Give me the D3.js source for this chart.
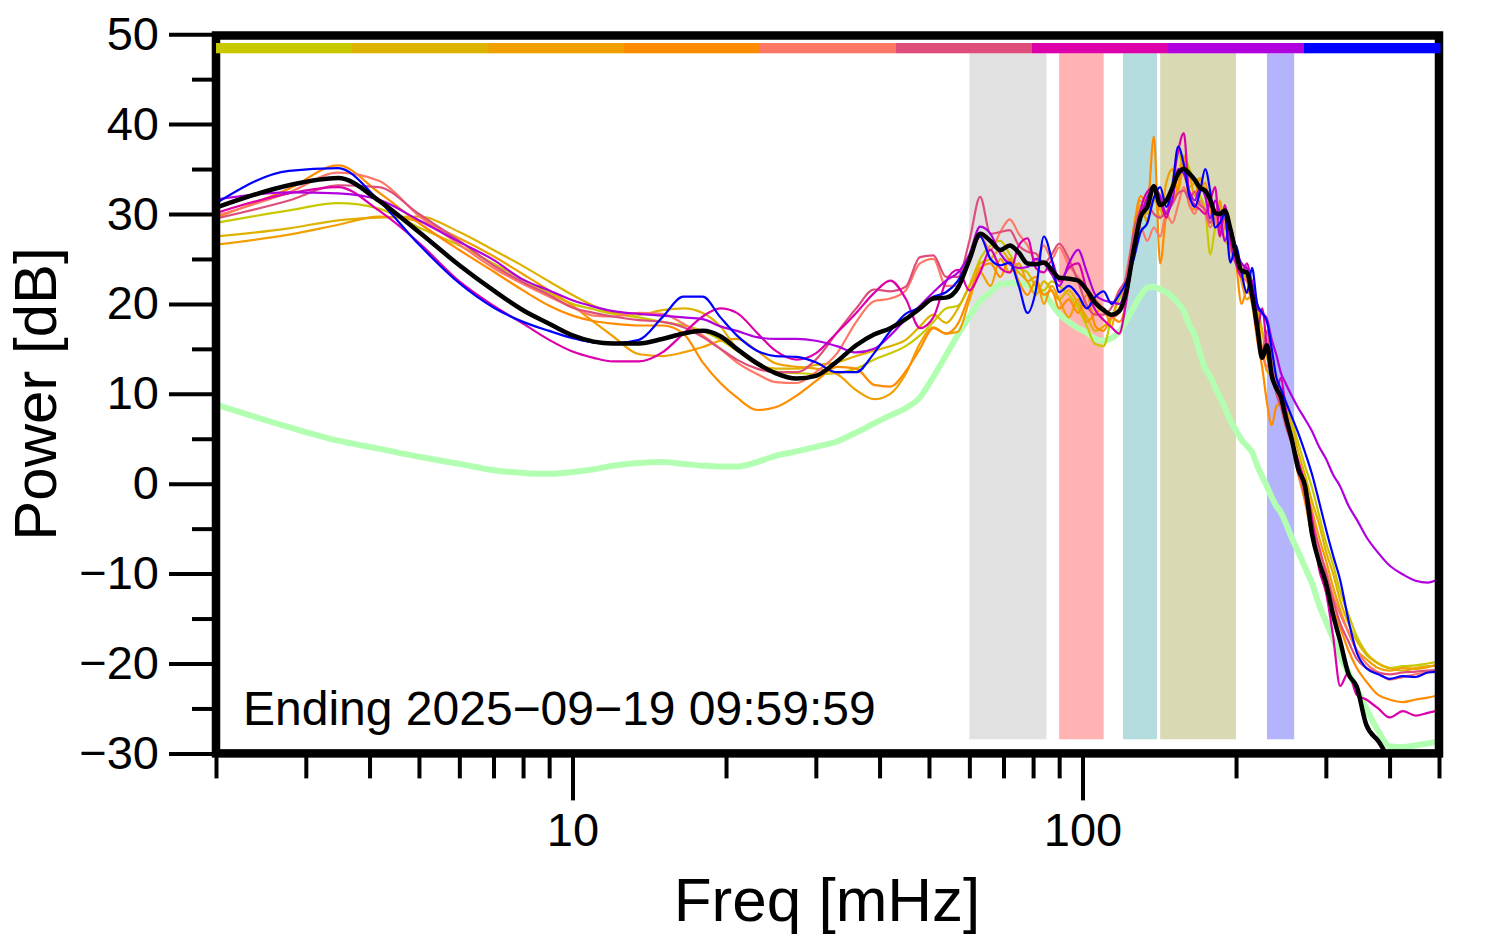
<!DOCTYPE html>
<html><head><meta charset="utf-8">
<script src="https://cdn.jsdelivr.net/npm/d3@7"></script>
<style>
html,body{margin:0;padding:0;background:#fff;}
svg{display:block;font-family:"Liberation Sans",Arial,Helvetica,sans-serif;}
</style></head><body>
<svg id="chart" width="1494" height="952"></svg>
<script>
// ---------------- data ----------------
const freqs = [2, 2.78, 3.47, 4.17, 5, 6, 7, 8, 9, 10,
  11, 12, 13.5, 15, 16.5, 18, 19.5, 21, 23, 25,
  27.5, 30, 33, 36, 39, 42, 45, 48, 51, 54,
  57, 60, 63, 66, 69, 72, 75, 78, 81, 84,
  87, 90, 94, 98, 102, 106, 110, 114, 118, 122,
  126, 130, 134, 138, 142, 146, 150, 154, 158, 162,
  166, 170, 174, 178, 182, 186, 190, 195, 200, 205,
  210, 215, 220, 225, 230, 235, 240, 245, 250, 257,
  265, 273, 282, 291, 300, 310, 320, 332, 345, 360,
  380, 400, 425, 450, 475, 500];

const sliceColors = ["#c8c800", "#ddb200", "#f0a000", "#ff8c00", "#ff7866", "#dd4f7a", "#dd00aa", "#b000dd", "#0000ff"];

const powerSlice1 = [29.0, 30.4, 31.2, 30.6, 28.5, 26.5, 24.5, 22.7, 21.2, 20.0,
  19.4, 18.9, 18.5, 18.0, 17.6, 17.0, 16.0, 14.8, 13.3, 12.5,
  12.3, 12.2, 12.3, 12.8, 13.8, 14.5, 15.3, 16.5, 18.0, 19.5,
  19.8, 22.0, 25.0, 26.5, 27.0, 25.5, 24.0, 23.5, 22.0, 21.5,
  22.5, 22.0, 21.0, 19.5, 17.5, 15.5, 15.3, 18.5, 20.5, 22.5,
  27.0, 30.0, 29.5, 31.5, 31.0, 30.0, 33.0, 34.5, 36.5, 35.0,
  33.5, 32.0, 30.5, 25.5, 28.5, 31.0, 29.0, 27.5, 26.0, 24.0,
  22.5, 22.0, 19.5, 17.0, 15.0, 13.5, 11.5, 10.5, 9.0, 7.0,
  4.5, 2.0, -0.5, -3.5, -6.5, -9.0, -12.0, -14.5, -17.0, -18.8,
  -20.0, -20.5, -20.3, -20.2, -20.0, -19.8];

const powerSlice2 = [27.5, 28.4, 29.3, 29.6, 29.7, 28.0, 26.0, 24.2, 22.5, 21.0,
  19.8, 19.0, 18.8, 19.3, 19.5, 19.0, 17.5, 15.0, 13.3, 12.8,
  12.8, 13.2, 13.5, 14.2, 14.8, 15.3, 16.0, 17.5, 18.8, 17.9,
  19.5, 22.0, 24.5, 25.0, 26.0, 24.8, 23.5, 22.5, 21.0, 22.5,
  21.5, 20.5, 21.5, 20.0, 18.5, 17.0, 17.5, 18.5, 19.5, 22.0,
  27.0, 31.0, 30.0, 31.5, 30.5, 29.5, 33.5, 37.0, 34.5, 33.0,
  33.5, 34.0, 32.5, 30.5, 30.0, 31.0, 29.0, 28.0, 25.5, 23.0,
  21.5, 22.5, 20.0, 17.0, 14.0, 12.5, 11.0, 10.0, 8.5, 6.5,
  3.5, 1.0, -2.0, -4.5, -7.5, -10.0, -13.0, -15.5, -17.5, -19.0,
  -20.0, -20.5, -20.8, -20.5, -20.3, -20.2];

const powerSlice3 = [26.6, 27.7, 28.8, 29.7, 29.2, 27.3, 25.3, 23.3, 21.5, 19.8,
  18.0, 16.4, 14.4, 14.2, 14.6, 15.2, 15.9, 16.1, 14.8, 13.4,
  13.0, 12.8, 12.2, 10.4, 9.4, 10.0, 12.2, 15.6, 17.4, 16.7,
  16.9, 20.4, 23.5, 22.0, 25.0, 23.5, 24.5, 22.5, 23.0, 20.0,
  22.0, 20.5, 18.5, 20.5, 18.0, 19.0, 19.5, 17.5, 21.5, 21.5,
  28.5, 31.5, 29.0, 33.0, 29.5, 33.5, 35.0, 32.5, 35.5, 34.5,
  32.0, 34.0, 32.0, 31.0, 29.5, 31.5, 27.0, 26.5, 25.5, 22.5,
  20.5, 21.0, 19.0, 15.0, 12.5, 12.0, 10.5, 9.5, 7.0, 5.0,
  2.5, 0.0, -3.0, -6.0, -8.5, -11.5, -14.0, -16.5, -18.5, -19.5,
  -20.5, -20.8, -20.5, -20.6, -20.4, -20.1];

const powerSlice4 = [29.6, 32.8, 35.4, 32.4, 29.0, 26.0, 23.6, 21.5, 19.8, 18.7,
  18.1, 17.8, 17.6, 17.6, 16.7, 13.5, 11.2, 9.6, 8.2, 8.5,
  9.8, 11.4, 13.0, 12.8, 11.0, 10.8, 12.5, 15.0, 17.3, 16.7,
  17.8, 21.0, 24.0, 24.5, 23.0, 25.0, 22.5, 21.0, 22.5, 21.0,
  21.5, 19.5, 20.5, 19.0, 21.0, 17.5, 17.0, 18.5, 18.0, 20.5,
  28.0, 32.0, 31.0, 38.6, 24.5, 30.0, 31.5, 33.0, 36.5, 31.0,
  30.5, 32.5, 33.5, 30.5, 29.0, 30.0, 28.5, 27.5, 24.5, 20.0,
  21.5, 20.0, 16.0, 13.0, 9.0, 6.5, 8.6, 9.0, 7.0, 4.5,
  1.0, -2.0, -6.0, -9.0, -12.0, -14.0, -16.0, -18.5, -20.5, -22.0,
  -23.5, -24.0, -24.3, -24.0, -23.8, -23.5];

const powerSlice5 = [29.8, 32.4, 34.6, 33.7, 29.8, 26.6, 24.0, 22.2, 20.8, 19.6,
  18.7, 18.6, 19.0, 18.9, 17.8, 16.5, 15.0, 13.5, 12.2, 11.3,
  11.2, 12.4, 14.5, 18.0, 20.3, 20.6, 21.5, 24.5, 25.0, 22.0,
  22.0, 25.0, 27.5, 26.0, 28.0, 29.4, 27.8, 26.5, 24.8, 26.5,
  25.0, 26.3, 24.3, 23.0, 21.8, 20.5, 19.5, 18.5, 19.0, 23.5,
  27.5, 28.5, 27.0, 28.5, 27.5, 30.0, 29.0, 31.0, 33.0, 31.0,
  30.0, 31.5, 30.0, 28.5, 29.5, 27.5, 29.0, 26.0, 25.0, 23.0,
  22.5, 20.5, 17.5, 15.0, 13.0, 14.5, 11.0, 9.0, 7.5, 5.0,
  1.0, -1.0, -3.5, -7.5, -9.5, -12.5, -14.5, -16.5, -18.5, -20.0,
  -21.0, -21.8, -21.5, -21.2, -21.0, -20.9];

const powerSlice6 = [29.5, 31.5, 33.2, 33.0, 30.0, 27.0, 24.3, 22.4, 21.0, 19.6,
  19.0, 18.6, 18.2, 18.0, 17.4, 16.3, 15.0, 13.8, 12.8, 12.4,
  12.4, 13.8, 16.8, 19.5, 21.6, 21.4, 21.9, 25.2, 25.4, 23.0,
  23.0, 27.0, 31.9, 27.8, 28.0, 28.2, 26.5, 25.8, 25.6, 24.5,
  25.5, 26.7, 25.0, 22.5, 19.8, 18.8, 18.8, 19.6, 21.5, 23.0,
  28.0, 30.5, 31.1, 30.0, 29.6, 30.3, 31.1, 32.3, 32.6, 31.7,
  32.5, 31.0, 30.5, 29.0, 30.5, 28.5, 29.5, 26.5, 24.5, 24.5,
  23.0, 21.0, 18.5, 14.5, 17.0, 13.0, 10.0, 8.5, 6.5, 4.5,
  2.0, -1.5, -4.5, -7.0, -10.0, -13.0, -15.5, -17.5, -19.5, -20.5,
  -21.0, -21.2, -21.0, -20.9, -20.8, -20.7];

const powerSlice7 = [30.1, 32.3, 33.0, 30.4, 26.8, 22.5, 19.8, 17.8, 16.0, 14.7,
  14.0, 13.6, 13.6, 14.6, 16.7, 18.6, 19.5, 19.0, 16.8, 14.8,
  13.8, 14.5, 16.8, 19.0, 21.2, 22.6, 20.6, 17.3, 18.5, 22.5,
  23.8, 21.5, 23.5, 26.0, 24.0, 23.5, 26.5, 27.3, 24.0, 23.5,
  24.8, 22.5, 24.0, 24.5, 21.5, 19.3, 18.2, 17.4, 16.7, 20.5,
  26.0, 30.5, 32.5, 33.0, 31.5, 29.6, 33.0, 37.0, 39.0, 32.0,
  31.0, 30.5, 30.0, 31.5, 33.0, 27.5, 31.0, 27.0, 24.5, 23.0,
  24.5, 21.5, 17.0, 19.5, 15.0, 12.0, 10.5, 11.8, 8.5, 5.0,
  2.5, 0.0, -4.0, -9.5, -12.0, -17.0, -22.5, -21.0, -23.5, -24.0,
  -25.0, -26.0, -25.3, -25.8, -25.5, -25.2];

const powerSlice8 = [31.6, 32.4, 32.3, 31.6, 29.3, 26.9, 24.9, 22.7, 21.5, 20.4,
  19.7, 19.2, 18.9, 18.7, 18.5, 18.3, 17.5, 17.0, 16.3, 16.1,
  16.1, 15.9, 15.3, 14.6, 15.0, 16.5, 18.3, 19.8, 21.3, 22.6,
  23.5, 25.5, 28.6, 27.8, 25.6, 24.4, 24.0, 24.1, 25.0, 24.5,
  23.3, 22.0, 24.5, 26.0, 23.5, 21.0, 20.4, 20.2, 20.0, 22.0,
  26.0, 29.5, 31.9, 33.0, 32.0, 30.0, 31.5, 35.0, 34.5, 32.5,
  31.5, 33.0, 32.0, 29.5, 31.5, 30.0, 27.0, 28.5, 26.0, 24.5,
  24.0, 22.5, 19.5, 19.0, 18.3, 16.0, 14.3, 12.3, 11.2, 9.8,
  8.4, 7.2, 5.8, 4.1, 2.8, 1.0, -0.3, -2.4, -4.0, -5.9,
  -7.7, -9.1, -10.1, -10.8, -11.0, -10.6];

const powerSlice9 = [31.2, 34.8, 35.1, 31.5, 26.6, 22.3, 19.6, 18.0, 17.0, 16.2,
  15.7, 15.6, 16.0, 18.5, 20.8, 20.8, 18.5, 16.5, 14.8, 14.2,
  14.1, 13.5, 12.4, 12.4, 14.5, 17.0, 18.9, 19.6, 20.8, 21.3,
  22.6, 25.0, 27.5, 25.0, 24.3, 24.6, 22.0, 19.0, 21.5, 27.5,
  25.0, 21.3, 22.0, 21.0, 19.5, 20.8, 21.4, 20.0, 21.0, 22.5,
  25.0, 28.0, 29.0, 31.8, 33.0, 30.8, 33.0, 37.5, 35.5, 32.0,
  30.8, 32.5, 35.0, 32.5, 28.5, 29.0, 30.0, 24.6, 26.5, 23.5,
  21.2, 24.0, 20.0, 19.0, 18.0, 15.0, 11.8, 10.5, 9.2, 7.5,
  5.6, 3.5, 1.0, -2.0, -5.0, -8.0, -10.7, -15.1, -18.8, -20.5,
  -21.2, -21.7, -21.4, -21.5, -21.0, -20.9];

const powerMean = [30.7, 33.2, 34.0, 31.5, 28.0, 24.3, 21.5, 19.3, 17.8, 16.5,
  15.8, 15.6, 15.6, 16.1, 16.7, 17.0, 16.4, 15.0, 13.4, 12.3,
  11.7, 12.0, 13.6, 15.4, 16.6, 17.3, 18.3, 19.5, 20.6, 20.7,
  21.8, 24.9, 27.8, 27.0, 26.0, 26.5, 25.7, 24.5, 24.4, 24.6,
  23.8, 22.9, 22.8, 22.6, 21.5, 20.1, 19.3, 18.8, 19.2, 21.5,
  26.0, 29.7, 30.8, 33.1, 31.0, 31.5, 32.9, 34.5, 35.0, 34.5,
  33.8, 32.9, 32.6, 31.6, 30.1, 30.0, 30.4, 28.3, 25.6, 23.7,
  23.5, 21.0, 17.5, 14.0, 15.4, 12.0, 10.6, 9.6, 7.5, 5.0,
  1.6, -0.2, -5.7, -8.7, -11.0, -14.6, -17.5, -21.1, -22.6, -26.8,
  -28.6, -30.4, -30.8, -31.0, -31.0, -31.0];

const powerNoise = [8.8, 6.3, 4.8, 3.9, 3.0, 2.2, 1.5, 1.2, 1.1, 1.3,
  1.6, 2.0, 2.3, 2.4, 2.2, 2.0, 1.9, 1.9, 2.4, 3.1,
  3.6, 4.1, 4.7, 5.7, 6.7, 7.6, 8.4, 9.6, 11.9, 14.3,
  16.6, 18.6, 20.3, 21.3, 22.2, 22.3, 22.3, 22.1, 21.8, 21.2,
  20.0, 18.9, 18.0, 17.3, 16.8, 16.1, 15.9, 16.2, 16.9, 18.2,
  19.6, 20.9, 21.8, 21.9, 21.6, 21.3, 20.8, 20.1, 19.2, 17.6,
  16.5, 14.5, 12.8, 11.9, 10.7, 9.6, 8.5, 7.0, 5.9, 4.9,
  4.2, 3.5, 2.0, 0.8, -0.3, -1.5, -2.5, -3.2, -4.3, -6.0,
  -7.6, -9.3, -11.1, -13.5, -15.3, -17.3, -19.2, -21.0, -22.8, -25.0,
  -27.5, -29.2, -29.3, -29.1, -28.9, -28.6];

const bandLow = [60, 90, 120, 142, 230];
const bandHigh = [85, 110, 140, 200, 260];
const bandColors = ["#e1e1e1", "#ffb3b3", "#b5dcdf", "#d9d9b4", "#b4b4fc"];

const yMajorTicks = [-30, -20, -10, 0, 10, 20, 30, 40, 50];
const yMinorTicks = [-25, -15, -5, 5, 15, 25, 35, 45];
const xMajorTicks = [10, 100];
const xMinorTicks = [2, 3, 4, 5, 6, 7, 8, 9, 20, 30, 40, 50, 60, 70, 80, 90, 200, 300, 400, 500];

const xTitle = "Freq [mHz]";
const yTitle = "Power [dB]";
const endingLabel = "Ending 2025\u221209\u221219 09:59:59";

// ---------------- drawing ----------------
const svg = d3.select("#chart");
const x = d3.scaleLog().domain([2, 500]).range([216, 1439]);
const y = d3.scaleLinear().domain([-30, 50]).range([753.4, 34.2]);
const [x0, x1] = x.range();
const plotTop = 35.5, plotBottom = 753.4;
const bandTop = 53.3, bandBottom = 739.3;

svg.append("rect").attr("width", 1494).attr("height", 952).attr("fill", "#fff");

svg.append("defs").append("clipPath").attr("id", "plotclip")
  .append("rect").attr("x", x0).attr("y", plotTop).attr("width", x1 - x0).attr("height", plotBottom - plotTop);

// bands
svg.append("g").selectAll("rect").data(bandLow).join("rect")
  .attr("x", (d) => x(d))
  .attr("width", (d, i) => x(bandHigh[i]) - x(d))
  .attr("y", bandTop).attr("height", bandBottom - bandTop)
  .attr("fill", (d, i) => bandColors[i]);

const line = d3.line()
  .x((d, i) => x(freqs[i]))
  .y((d) => y(d))
  .curve(d3.curveMonotoneX);

const plot = svg.append("g").attr("clip-path", "url(#plotclip)");

plot.append("path").attr("d", line(powerNoise))
  .attr("fill", "none").attr("stroke", "#b2ffb2").attr("stroke-width", 6)
  .attr("stroke-linejoin", "round");

const slices = [powerSlice1, powerSlice2, powerSlice3, powerSlice4, powerSlice5,
  powerSlice6, powerSlice7, powerSlice8, powerSlice9];
plot.selectAll("path.slice").data(slices).join("path")
  .attr("class", "slice")
  .attr("d", (d) => line(d))
  .attr("fill", "none")
  .attr("stroke", (d, i) => sliceColors[i])
  .attr("stroke-width", 2.2)
  .attr("stroke-linejoin", "round");

plot.append("path").attr("d", line(powerMean))
  .attr("fill", "none").attr("stroke", "#000").attr("stroke-width", 4.5)
  .attr("stroke-linejoin", "round");

// frame
svg.append("rect").attr("x", x0).attr("y", plotTop)
  .attr("width", x1 - x0).attr("height", plotBottom - plotTop)
  .attr("fill", "none").attr("stroke", "#000").attr("stroke-width", 8.5);

// time-slice colour bar
const segW = (x1 + 1 - x0) / sliceColors.length;
svg.append("g").selectAll("rect").data(sliceColors).join("rect")
  .attr("x", (d, i) => x0 + i * segW)
  .attr("width", segW + 0.5)
  .attr("y", 43).attr("height", 10.3)
  .attr("fill", (d) => d);

// axes
const fmt = (d) => (d < 0 ? "\u2212" + Math.abs(d) : String(d));
function styleAxis(g, fontSize) {
  g.select(".domain").remove();
  g.selectAll(".tick line").attr("stroke", "#000").attr("stroke-width", 4);
  g.selectAll(".tick text").attr("fill", "#000").attr("font-size", fontSize)
    .attr("font-family", '"Liberation Sans", Arial, Helvetica, sans-serif');
}
svg.append("g").attr("transform", `translate(${x0},0)`)
  .call(d3.axisLeft(y).tickValues(yMajorTicks).tickSize(47).tickPadding(10).tickFormat(fmt))
  .call((g) => styleAxis(g, 47));
svg.append("g").attr("transform", `translate(${x0},0)`)
  .call(d3.axisLeft(y).tickValues(yMinorTicks).tickSize(24).tickFormat(""))
  .call((g) => styleAxis(g, 47));
svg.append("g").attr("transform", `translate(0,${plotBottom})`)
  .call(d3.axisBottom(x).tickValues(xMajorTicks).tickSize(47).tickPadding(12).tickFormat(d3.format("d")))
  .call((g) => styleAxis(g, 47));
svg.append("g").attr("transform", `translate(0,${plotBottom})`)
  .call(d3.axisBottom(x).tickValues(xMinorTicks).tickSize(25).tickFormat(""))
  .call((g) => styleAxis(g, 47));

// titles
svg.append("text").attr("x", 827).attr("y", 921).attr("text-anchor", "middle")
  .attr("font-size", 62).attr("fill", "#000").text(xTitle);
svg.append("text").attr("transform", "translate(56,394) rotate(-90)")
  .attr("text-anchor", "middle").attr("font-size", 60).attr("fill", "#000").text(yTitle);
svg.append("text").attr("x", 243).attr("y", 725)
  .attr("font-size", 48).attr("fill", "#000").text(endingLabel);
</script>
</body></html>
